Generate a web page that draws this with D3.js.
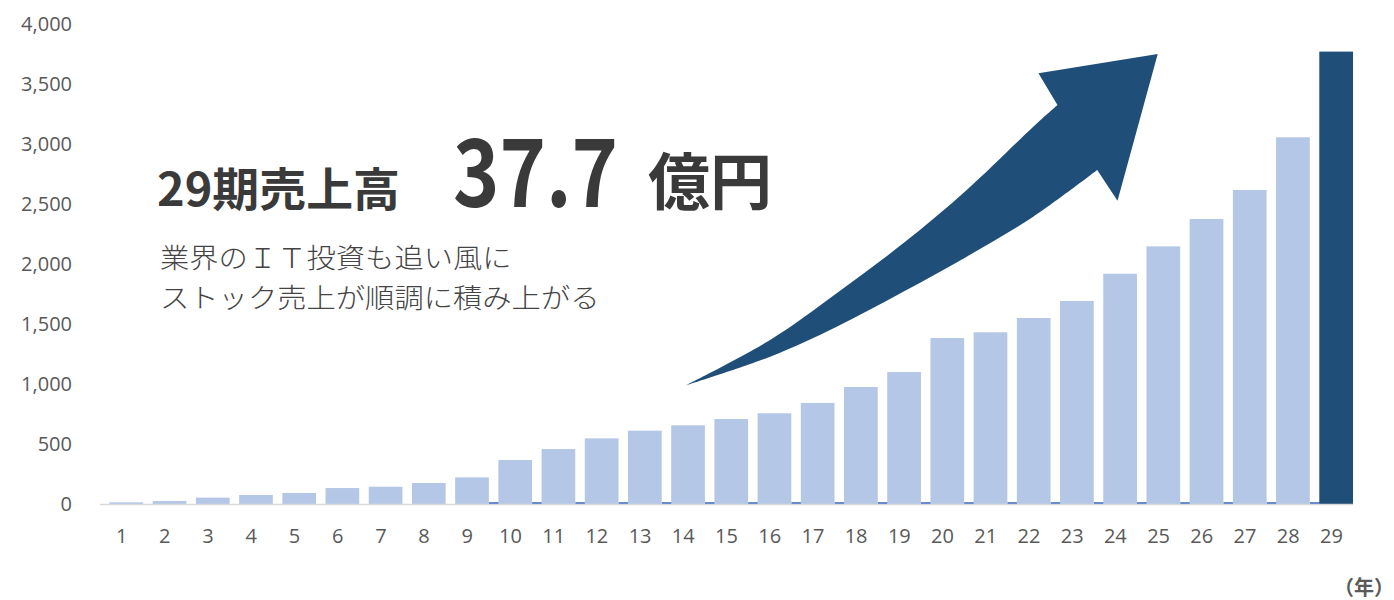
<!DOCTYPE html>
<html>
<head>
<meta charset="utf-8">
<script src="https://cdn.jsdelivr.net/npm/d3@7"></script>
<style>
  body { margin: 0; background: #fff; }
  text { font-family: "Open Sans", "Noto Sans CJK JP", sans-serif; }
  .jp { font-family: "Noto Sans CJK JP", sans-serif; }
</style>
</head>
<body>
<svg id="chart" width="1394" height="600"></svg>
<script>
// periods 1..29, sales in 百万円
var periods = d3.range(1, 30).map(String);
var sales = [14, 25, 53, 75, 92, 133, 144, 175, 222, 367, 458, 547, 611, 656, 708,
  756, 842, 975, 1100, 1383, 1431, 1550, 1692, 1919, 2147, 2375, 2617, 3056, 3770];
// tiny second series visible at the foot of the bars from period 10
var otherSales = [0, 0, 0, 0, 0, 0, 0, 0, 0, 15, 15, 15, 15, 15, 15,
  15, 15, 15, 15, 15, 15, 15, 15, 15, 15, 15, 15, 15, 15];
var yTicks = [0, 500, 1000, 1500, 2000, 2500, 3000, 3500, 4000];
var subLines = ["業界のＩＴ投資も追い風に", "ストック売上が順調に積み上がる"];

// arrow outline in chart units [band position, value]
var arrowUpper = [[13.54, 986], [15.51, 1367], [17.05, 1756], [18.59, 2172],
  [20.06, 2617], [21.60, 3144], [22.16, 3325]];
var arrowHead = [[21.72, 3589], [24.48, 3750], [23.55, 2528], [23.08, 2783]];
var arrowLower = [[23.08, 2783], [21.60, 2394], [20.06, 2061], [18.59, 1769],
  [17.05, 1478], [15.51, 1228], [13.54, 986]];

var svg = d3.select("#chart");

var x = d3.scaleBand().domain(periods).range([100, 1353]).padding(0);
var xu = d3.scaleLinear().domain([0, 29]).range([100, 1353]);
var y = d3.scaleLinear().domain([0, 4000]).range([504, 24]);
var bw = x.bandwidth();

// y axis labels
svg.append("g")
  .selectAll("text")
  .data(yTicks)
  .enter()
  .append("text")
  .attr("x", 72)
  .attr("y", function (d) { return y(d); })
  .attr("dy", "0.35em")
  .attr("text-anchor", "end")
  .attr("font-size", 20)
  .attr("fill", "#595959")
  .text(d3.format(","));

// x axis labels
svg.append("g")
  .selectAll("text")
  .data(periods)
  .enter()
  .append("text")
  .attr("x", function (d) { return x(d) + bw / 2; })
  .attr("y", 536)
  .attr("dy", "0.35em")
  .attr("text-anchor", "middle")
  .attr("font-size", 20)
  .attr("fill", "#595959")
  .text(function (d) { return d; });

// second series (hidden mostly behind the main bars)
svg.append("g")
  .selectAll("rect")
  .data(otherSales)
  .enter()
  .append("rect")
  .attr("x", function (d, i) { return x(periods[i]); })
  .attr("y", function (d) { return y(d); })
  .attr("width", bw * 0.5)
  .attr("height", function (d) { return y(0) - y(d); })
  .attr("fill", "#4472C4");

// main bars
svg.append("g")
  .selectAll("rect")
  .data(sales)
  .enter()
  .append("rect")
  .attr("x", function (d, i) { return x(periods[i]) + bw * 0.22; })
  .attr("y", function (d) { return y(d); })
  .attr("width", bw * 0.78)
  .attr("height", function (d) { return y(0) - y(d); })
  .attr("fill", function (d, i) { return i === sales.length - 1 ? "#1F4E79" : "#B4C7E7"; });

// baseline
svg.append("line")
  .attr("x1", 100)
  .attr("x2", 1353)
  .attr("y1", y(0) + 0.5)
  .attr("y2", y(0) + 0.5)
  .attr("stroke", "#D9D9D9")
  .attr("stroke-width", 1.5);

// big arrow
var edge = d3.line()
  .x(function (d) { return xu(d[0]); })
  .y(function (d) { return y(d[1]); })
  .curve(d3.curveCatmullRom);
var headPath = arrowHead.map(function (d) {
  return "L" + xu(d[0]) + "," + y(d[1]);
}).join("");
var arrowPath = edge(arrowUpper) + headPath + edge(arrowLower).replace(/^M/, "L") + "Z";
svg.append("path")
  .attr("d", arrowPath)
  .attr("fill", "#1F4E79");

// headline
var head = svg.append("g").attr("fill", "#3A3A3A").attr("font-weight", 700);
head.append("text")
  .attr("class", "jp")
  .attr("x", 157)
  .attr("y", 206)
  .attr("font-size", 46)
  .attr("textLength", 243)
  .attr("lengthAdjust", "spacingAndGlyphs")
  .text("29期売上高");
head.append("text")
  .attr("class", "jp")
  .attr("x", 453)
  .attr("y", 207)
  .attr("font-size", 94)
  .attr("textLength", 165)
  .attr("lengthAdjust", "spacingAndGlyphs")
  .text("37.7");
head.append("text")
  .attr("class", "jp")
  .attr("x", 648)
  .attr("y", 205)
  .attr("font-size", 62)
  .text("億円");

// sub text, two lines
svg.append("g")
  .selectAll("text")
  .data(subLines)
  .enter()
  .append("text")
  .attr("class", "jp")
  .attr("x", 160)
  .attr("y", function (d, i) { return 268 + i * 40; })
  .attr("font-size", 27)
  .attr("font-weight", 300)
  .attr("fill", "#444444")
  .attr("textLength", function (d) { return d.length * 29.3; })
  .attr("lengthAdjust", "spacingAndGlyphs")
  .text(function (d) { return d; });

// unit label
svg.append("text")
  .attr("class", "jp")
  .attr("x", 1394)
  .attr("y", 588)
  .attr("dy", "0.35em")
  .attr("text-anchor", "end")
  .attr("font-size", 20)
  .attr("font-weight", 700)
  .attr("fill", "#595959")
  .text("（年）");
</script>
</body>
</html>
